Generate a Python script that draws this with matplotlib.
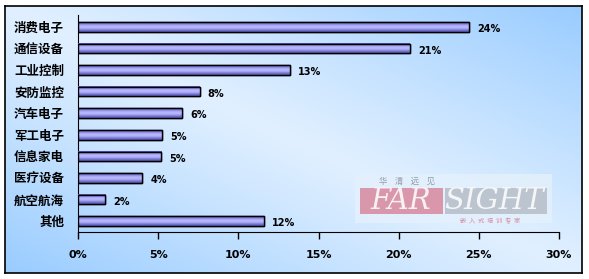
import numpy as np
import matplotlib.pyplot as plt
from matplotlib.patches import Rectangle

plt.rcParams['font.family'] = ['Noto Sans CJK SC', 'DejaVu Sans']

categories = ['消费电子', '通信设备', '工业控制', '安防监控', '汽车电子',
              '军工电子', '信息家电', '医疗设备', '航空航海', '其他']
values = [24.4, 20.7, 13.2, 7.6, 6.5, 5.25, 5.2, 4.0, 1.7, 11.6]
value_labels = ['24%', '21%', '13%', '8%', '6%', '5%', '5%', '4%', '2%', '12%']
xticks = [0, 5, 10, 15, 20, 25, 30]

W, H = 589, 279
fig = plt.figure(figsize=(W / 100, H / 100), dpi=100)

# background panel with diagonal blue gradient
bg = fig.add_axes([5 / W, 6 / H, 577 / W, 267 / H])
gx, gy = np.meshgrid(np.linspace(0, 1, 300), np.linspace(0, 1, 150))
d = np.abs((gx + (1 - gy)) / 2 - 0.5) * 2
light = np.array([0.88, 0.94, 1.0])
blue = np.array([0.60, 0.80, 1.0])
img = light + (blue - light) * d[..., None] ** 1.1
bg.imshow(img, aspect='auto', extent=(0, 1, 0, 1))
bg.set_xticks([])
bg.set_yticks([])
for s in bg.spines.values():
    s.set_linewidth(1.2)
    s.set_color('black')


def px(x, y):
    # figure pixel (from top-left) -> bg axes fraction
    return (x - 5) / 577, (273 - y) / 267


# watermark logo
bg.add_patch(Rectangle(px(355, 223), 197 / 577, 49 / 267,
                       transform=bg.transAxes, color='#e4f0fc', alpha=0.85, lw=0))
bg.add_patch(Rectangle(px(360, 214), 83 / 577, 26 / 267,
                       transform=bg.transAxes, color='#d98ea4', alpha=0.9, lw=0))
bg.add_patch(Rectangle(px(445, 214), 102 / 577, 26 / 267,
                       transform=bg.transAxes, color='#b8c1cb', alpha=0.9, lw=0))
bg.text(*px(401, 201), 'FAR', transform=bg.transAxes, ha='center',
        va='center', fontsize=21, family='DejaVu Serif', style='italic',
        color='#f6f2f4')
bg.text(*px(494, 201), 'SIGHT', transform=bg.transAxes, ha='center',
        va='center', fontsize=21, family='DejaVu Serif', style='italic',
        color='#f4f6f8')
bg.text(*px(407, 181), '华    清    远    见', transform=bg.transAxes,
        ha='center', va='center', fontsize=6, color='#8f9caa', style='italic')
bg.text(*px(490, 221), '嵌  入  式  培  训  专  家', transform=bg.transAxes,
        ha='center', va='center', fontsize=4.5, color='#d38aa0')

# main chart
ax = fig.add_axes([78 / W, (H - 232) / H, 481 / W, 217 / H])
ax.patch.set_alpha(0)
y = np.arange(len(categories))
bars = ax.barh(y, values, height=0.44, color='#8c8cf0', edgecolor='black',
               linewidth=1.0, zorder=3)

# vertical gradient inside each bar
grad = np.array([0.0, 0.35, 0.7, 0.95, 1.0, 0.9, 0.6, 0.3, 0.1])[:, None]
dark = np.array([0.33, 0.33, 0.70])
lite = np.array([0.72, 0.72, 1.0])
bar_img = dark + (lite - dark) * grad[..., None]
for b in bars:
    x0, y0 = b.get_x(), b.get_y()
    ax.imshow(bar_img, aspect='auto', interpolation='bilinear',
              extent=(x0, x0 + b.get_width(), y0 + b.get_height(), y0), zorder=3.5)
    edge = Rectangle((x0, y0), b.get_width(), b.get_height(), fill=False,
                     edgecolor='black', lw=1.0, zorder=4)
    ax.add_patch(edge)

for yi, v, lab in zip(y, values, value_labels):
    ax.text(v + 0.5, yi + 0.1, lab, va='center', ha='left', fontsize=7,
            fontweight='bold', family='DejaVu Sans')

ax.set_xlim(0, 30)
ax.set_ylim(len(categories) - 0.5, -0.55)
ax.set_xticks(xticks)
ax.set_xticklabels([f'{t}%' for t in xticks], fontsize=8, fontweight='bold',
                   family='DejaVu Sans')
ax.set_yticks(y)
ax.set_yticklabels(categories, fontsize=9, fontweight='bold')
ax.tick_params(axis='y', length=0, pad=10)
ax.tick_params(axis='x', length=5, width=1, direction='out', pad=8)
ax.spines['top'].set_visible(False)
ax.spines['right'].set_visible(False)

fig.savefig('out.png', dpi=100)
